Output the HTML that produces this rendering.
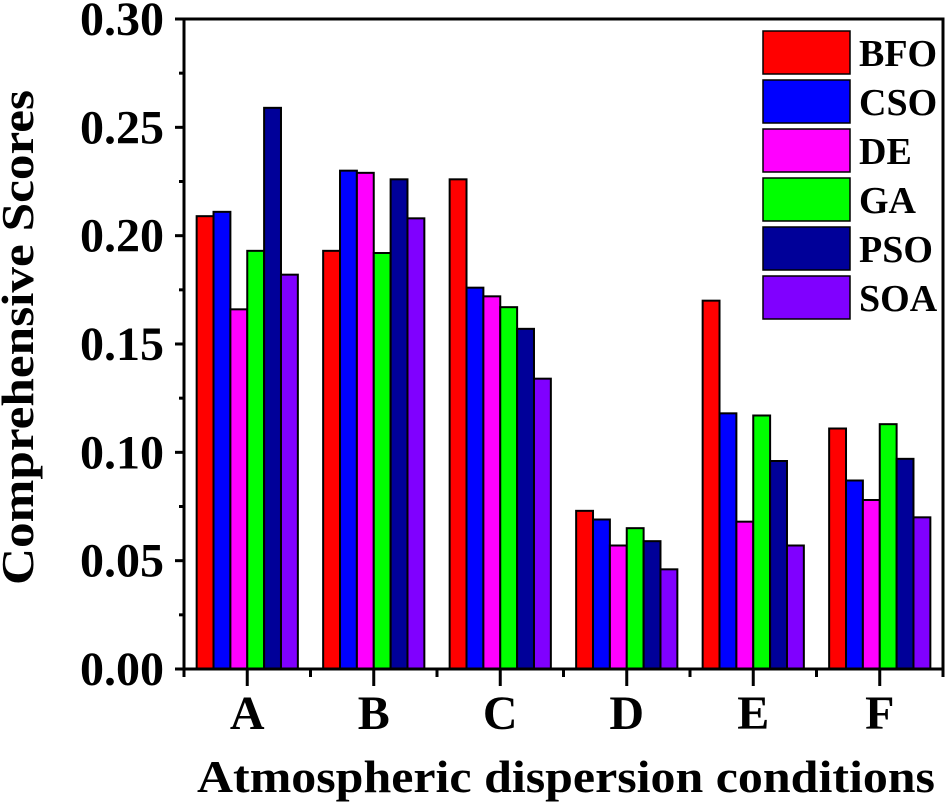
<!DOCTYPE html>
<html><head><meta charset="utf-8"><style>
html,body{margin:0;padding:0;background:#fff;}
svg{display:block;font-family:"Liberation Serif",serif;font-weight:bold;}
</style></head><body>
<svg id="chart" width="947" height="804" viewBox="0 0 947 804" xmlns="http://www.w3.org/2000/svg"></svg>
<script>
const categories = ["A","B","C","D","E","F"];
const seriesNames = ["BFO","CSO","DE","GA","PSO","SOA"];
const seriesColors = ["#ff0000","#0000ff","#ff00ff","#00ff00","#000099","#8000ff"];
const bfo = [0.209,0.193,0.226,0.073,0.170,0.111];
const cso = [0.211,0.230,0.176,0.069,0.118,0.087];
const de  = [0.166,0.229,0.172,0.057,0.068,0.078];
const ga  = [0.193,0.192,0.167,0.065,0.117,0.113];
const pso = [0.259,0.226,0.157,0.059,0.096,0.097];
const soa = [0.182,0.208,0.134,0.046,0.057,0.070];
const yTicks = ["0.00","0.05","0.10","0.15","0.20","0.25","0.30"];
const yTickValues = [0,0.05,0.10,0.15,0.20,0.25,0.30];
const series = [bfo,cso,de,ga,pso,soa];

const NS="http://www.w3.org/2000/svg";
const svg=document.getElementById('chart');
const L=184,R=943,T=19,B=669,yMax=0.30;
const y=v=>B-(v/yMax)*(B-T);
const step=(R-L)/categories.length;
const xc=i=>L+step*(i+0.5);
const bw=step*0.8/series.length;
function mk(t,a){const e=document.createElementNS(NS,t);for(const k in a)e.setAttribute(k,a[k]);svg.appendChild(e);return e;}

series.forEach((s,si)=>{
  s.forEach((v,ci)=>{
    const x0=xc(ci)-step*0.4+si*bw;
    const r=mk('rect',{x:x0,y:y(v),width:bw,height:B-y(v),fill:seriesColors[si],stroke:'#000','stroke-width':2});
    
    
  });
});

const fr=mk('rect',{x:L,y:T,width:R-L,height:B-T,fill:'none',stroke:'#000','stroke-width':3});



yTickValues.forEach((v,i)=>{
  mk('line',{x1:L-9,x2:L,y1:y(v),y2:y(v),stroke:'#000','stroke-width':3});
  if(i<yTickValues.length-1){const m=v+0.025;mk('line',{x1:L-5,x2:L,y1:y(m),y2:y(m),stroke:'#000','stroke-width':3});}
  const t=mk('text',{x:164,y:y(v)+16,'text-anchor':'end','font-size':48});
  t.textContent=yTicks[i];
  
  
});
categories.forEach((c,i)=>{
  mk('line',{x1:xc(i),x2:xc(i),y1:B,y2:B+17,stroke:'#000','stroke-width':3});
  mk('line',{x1:L+step*i,x2:L+step*i,y1:B,y2:B+8,stroke:'#000','stroke-width':3});
  const t=mk('text',{x:xc(i),y:729,'text-anchor':'middle','font-size':48});
  t.textContent=c;
  
  
});
mk('line',{x1:R,x2:R,y1:B,y2:B+8,stroke:'#000','stroke-width':3});

const xt=mk('text',{x:197,y:792,'font-size':46,textLength:738,lengthAdjust:'spacingAndGlyphs'});
xt.textContent='Atmospheric dispersion conditions';


const yt=mk('text',{x:0,y:0,'font-size':46,textLength:495,lengthAdjust:'spacingAndGlyphs',transform:'translate(33,585) rotate(-90)'});
yt.textContent='Comprehensive Scores';



seriesNames.forEach((n,i)=>{
  const y0=31+i*49;
  const g=document.createElementNS(NS,'g');svg.appendChild(g);
  
  
  const r=document.createElementNS(NS,'rect');
  r.setAttribute('x',763);r.setAttribute('y',y0);r.setAttribute('width',87);r.setAttribute('height',43);
  r.setAttribute('fill',seriesColors[i]);r.setAttribute('stroke','#000');r.setAttribute('stroke-width',1.5);
  g.appendChild(r);
  const t=document.createElementNS(NS,'text');
  t.setAttribute('x',859);t.setAttribute('y',y0+35);t.setAttribute('font-size',38);
  t.textContent=n;g.appendChild(t);
});
</script>
</body></html>
